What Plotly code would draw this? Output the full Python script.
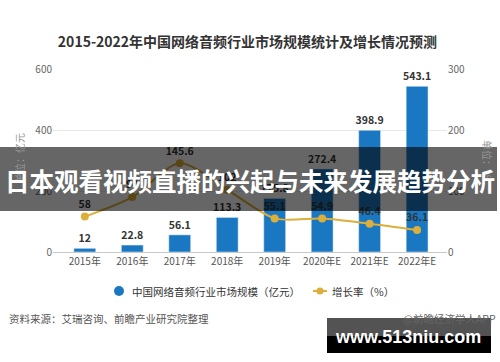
import plotly.graph_objects as go

categories = ["2015年", "2016年", "2017年", "2018年", "2019年", "2020年E", "2021年E", "2022年E"]
market_size = [12, 22.8, 56.1, 113.3, 175.8, 272.4, 398.9, 543.1]
growth_rate = [58, 90, 145.6, 102, 55.1, 54.9, 46.4, 36.1]
left_ticks = [0, 200, 400, 600]
right_ticks = [0, 100, 200, 300]
legend_names = ["中国网络音频行业市场规模（亿元）", "增长率（%）"]

W, H = 500, 362
L, R, T, B = 53, 447, 69, 252
CJK = "Noto Sans CJK SC, Microsoft YaHei, sans-serif"
BLUE = "#1a78c2"
GOLD = "#dcae3a"


def px(x):
    return (x - L) / (R - L)


def py(y):
    return (B - y) / (B - T)


fig = go.Figure()

fig.add_trace(go.Bar(
    x=categories, y=market_size, marker_color=BLUE, width=0.46,
    texttemplate="<b>%{y}</b>", textposition="outside", constraintext="none",
    textfont=dict(size=10.5, color="#333", family=CJK),
    cliponaxis=False, showlegend=False, name=legend_names[0],
))
fig.add_trace(go.Scatter(
    x=categories, y=growth_rate, yaxis="y2", mode="lines+markers+text",
    line=dict(color=GOLD, width=2, shape="spline", smoothing=0.8),
    marker=dict(color=GOLD, size=8),
    texttemplate="<b>%{y}</b>", textposition="top center",
    textfont=dict(size=10.5, color="#333", family=CJK),
    cliponaxis=False, showlegend=False, name=legend_names[1],
))

LY = 291
shapes = [
    # legend symbols
    dict(type="circle", xref="paper", yref="paper", x0=px(114), x1=px(124), y0=py(LY + 5), y1=py(LY - 5),
         fillcolor=BLUE, line_width=0),
    dict(type="line", xref="paper", yref="paper", x0=px(313), x1=px(327), y0=py(LY), y1=py(LY),
         line=dict(color=GOLD, width=2)),
    dict(type="circle", xref="paper", yref="paper", x0=px(316.5), x1=px(323.5), y0=py(LY + 3.5), y1=py(LY - 3.5),
         fillcolor=GOLD, line_width=0),
    # overlay banner
    dict(type="rect", xref="paper", yref="paper", x0=px(0), x1=px(497), y0=py(211), y1=py(147),
         fillcolor="rgba(0,0,0,0.6)", line_width=0, layer="above"),
    # watermark box
    dict(type="rect", xref="paper", yref="paper", x0=px(327), x1=px(491), y0=py(336), y1=py(318),
         fillcolor="rgba(40,40,40,0.8)", line_width=0, layer="above"),
    dict(type="rect", xref="paper", yref="paper", x0=px(327), x1=px(491), y0=py(353), y1=py(336),
         fillcolor="#000000", line_width=0, layer="above"),
]

annotations = [
    dict(text=legend_names[0], xref="paper", yref="paper", x=px(130), y=py(LY), xanchor="left",
         yanchor="middle", showarrow=False, font=dict(size=10.5, color="#333", family=CJK)),
    dict(text=legend_names[1], xref="paper", yref="paper", x=px(330), y=py(LY), xanchor="left",
         yanchor="middle", showarrow=False, font=dict(size=10.5, color="#333", family=CJK)),
    dict(text="单位：亿元", xref="paper", yref="paper", x=px(19), y=py(158), textangle=-90,
         xanchor="center", yanchor="middle",
         showarrow=False, font=dict(size=10, color="#999", family=CJK)),
    dict(text="单位：%", xref="paper", yref="paper", x=px(488), y=py(160), textangle=90,
         xanchor="center", yanchor="middle",
         showarrow=False, font=dict(size=10, color="#999", family=CJK)),
    dict(text="资料来源：艾瑞咨询、前瞻产业研究院整理", xref="paper", yref="paper", x=px(7), y=py(318),
         xanchor="left", yanchor="middle", showarrow=False, font=dict(size=10.5, color="#555", family=CJK)),
    dict(text="@前瞻经济学人APP", xref="paper", yref="paper", x=px(498), y=py(318),
         xanchor="right", yanchor="middle", showarrow=False, font=dict(size=10.5, color="#666", family=CJK)),
    dict(text="<b>日本观看视频直播的兴起与未来发展趋势分析</b>", xref="paper", yref="paper", x=px(250), y=py(180),
         xanchor="center", yanchor="middle", showarrow=False, font=dict(size=24.5, color="#ffffff", family=CJK)),
    dict(text="<b>www.513niu.com</b>", xref="paper", yref="paper", x=px(408), y=py(337),
         xanchor="center", yanchor="middle", showarrow=False,
         font=dict(size=18, color="#ffffff", family="Liberation Sans, Arial, sans-serif")),
]

fig.update_layout(
    width=W, height=H,
    margin=dict(l=L, r=W - R, t=T, b=H - B),
    paper_bgcolor="white", plot_bgcolor="white",
    showlegend=False,
    title=dict(text="<b>2015-2022年中国网络音频行业市场规模统计及增长情况预测</b>",
               x=0.495, xanchor="center", y=1 - 42 / H, yanchor="middle",
               font=dict(size=14, color="#333", family=CJK)),
    xaxis=dict(type="category", range=[-0.67, 7.63], showgrid=False, showline=True,
               linecolor="#c8c8c8", ticks="", tickfont=dict(size=10, color="#555", family=CJK)),
    yaxis=dict(range=[0, 600], tickvals=left_ticks, showgrid=True, gridcolor="#e8e8e8",
               zeroline=False, showline=False, tickfont=dict(size=10, color="#666", family=CJK)),
    yaxis2=dict(range=[0, 300], tickvals=right_ticks, overlaying="y", side="right", showgrid=False,
                zeroline=False, showline=False, tickfont=dict(size=10, color="#666", family=CJK)),
    shapes=shapes, annotations=annotations,
    bargap=0.5,
)

fig.write_html("out.html", config={"displayModeBar": False},
               post_script="document.body.style.margin='0';")
